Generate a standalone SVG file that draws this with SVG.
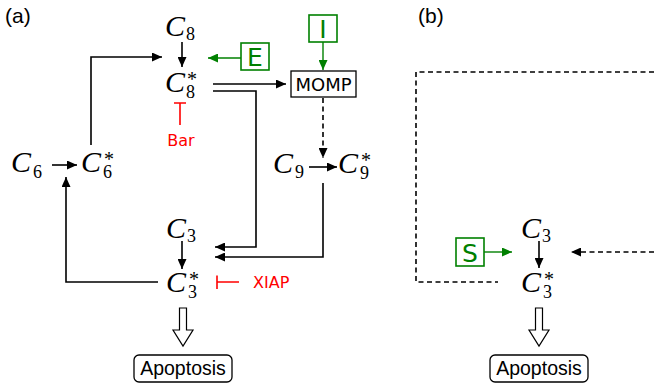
<svg xmlns="http://www.w3.org/2000/svg" width="654" height="390" viewBox="0 0 654 390">
<style>
.c{font-family:"Liberation Serif","DejaVu Serif",serif;font-style:italic;font-size:30px;fill:#000}
.s{font-family:"Liberation Serif","DejaVu Serif",serif;font-size:18px;fill:#000}
.st{font-size:20px}
.lab{font-family:"Liberation Sans",Arial,sans-serif;font-size:21px;fill:#000}
.sans{font-family:"DejaVu Sans",sans-serif;fill:#000}
.ap{font-family:"Liberation Sans",Arial,sans-serif;font-size:19.5px;fill:#000}
.k{stroke:#000;stroke-width:1.6;fill:none}
.g{stroke:#008000;stroke-width:1.4;fill:none}
.r{stroke:#ff0000;stroke-width:1.6;fill:none}
.d{stroke-dasharray:5,3.5}
.gb{fill:#fff;stroke:#008000;stroke-width:1.6}
.gt{font-family:"DejaVu Sans",sans-serif;fill:#008000;text-anchor:middle}
.rt{font-family:"DejaVu Sans",sans-serif;fill:#ff0000;font-size:16px}
.box{fill:#fff;stroke:#000;stroke-width:1.3}
.hol{fill:#fff;stroke:#000;stroke-width:1.2}
</style>
<defs>
<marker id="ak" markerUnits="userSpaceOnUse" markerWidth="10" markerHeight="9" refX="10" refY="4.5" orient="auto"><path d="M0,0 L10,4.5 L0,9 z" fill="#000"/></marker>
<marker id="ag" markerUnits="userSpaceOnUse" markerWidth="10" markerHeight="9" refX="10" refY="4.5" orient="auto"><path d="M0,0 L10,4.5 L0,9 z" fill="#008000"/></marker>
</defs>

<text class="lab" x="5" y="23">(a)</text>
<text class="lab" x="418" y="23">(b)</text>

<g id="connectors">
  <line class="k" x1="182" y1="42" x2="182" y2="67" marker-end="url(#ak)"/>
  <line class="g" x1="241" y1="58" x2="208" y2="58" marker-end="url(#ag)"/>
  <line class="g" x1="323" y1="42" x2="323" y2="70" marker-end="url(#ag)"/>
  <line class="k" x1="213" y1="84" x2="286" y2="84" marker-end="url(#ak)"/>
  <polyline class="k" points="213,91 256,91 256,247 215,247" marker-end="url(#ak)"/>
  <line class="k d" x1="323" y1="98" x2="323" y2="158" marker-end="url(#ak)"/>
  <line class="k" x1="309" y1="167" x2="337" y2="167" marker-end="url(#ak)"/>
  <polyline class="k" points="323,183 323,257 215,257" marker-end="url(#ak)"/>
  <line class="k" x1="52" y1="165" x2="77" y2="165" marker-end="url(#ak)"/>
  <polyline class="k" points="91,145 91,57 162,57" marker-end="url(#ak)"/>
  <polyline class="k" points="158,282 66,282 66,177" marker-end="url(#ak)"/>
  <line class="k" x1="182" y1="241" x2="182" y2="269" marker-end="url(#ak)"/>
  <path class="r" d="M180,125 V103 M174,103 H186"/>
  <path class="r" d="M239,282 H217 M217,275.5 V289"/>
  <path class="hol" d="M179.5,308 H186.5 V330 H193 L183,346 L173,330 H179.5 Z"/>
  <path class="k d" d="M654,72 H416 V282 H498"/>
  <line class="k d" x1="654" y1="252" x2="571" y2="252" marker-end="url(#ak)"/>
  <line class="g" x1="484" y1="252" x2="512" y2="252" marker-end="url(#ag)"/>
  <line class="k" x1="539" y1="241" x2="539" y2="268" marker-end="url(#ak)"/>
  <path class="hol" d="M535.5,308 H542.5 V330 H549 L539,346 L529,330 H535.5 Z"/>
</g>

<g id="C8"><text class="c" x="165" y="36">C</text><text class="s" x="186" y="40">8</text></g>
<g id="C8s"><text class="c" x="165" y="92">C</text><text class="s" x="187" y="86"><tspan class="st">*</tspan><tspan x="186" y="98">8</tspan></text></g>
<g id="E"><rect class="gb" x="241" y="43" width="28" height="27"/><text class="gt" x="255" y="66" font-size="25">E</text></g>
<g id="I"><rect class="gb" x="309" y="15" width="28" height="27"/><text class="gt" x="323" y="38" font-size="25">I</text></g>
<g id="MOMP"><rect class="box" x="291" y="71" width="65" height="26"/><text class="sans" x="323.5" y="91" font-size="18" text-anchor="middle">MOMP</text></g>
<g id="Bar"><text class="rt" x="181" y="146" text-anchor="middle">Bar</text></g>
<g id="C6"><text class="c" x="11" y="172">C</text><text class="s" x="33" y="178">6</text></g>
<g id="C6s"><text class="c" x="81" y="172">C</text><text class="s" x="104" y="166"><tspan class="st">*</tspan><tspan x="103" y="178">6</tspan></text></g>
<g id="C9"><text class="c" x="273" y="173">C</text><text class="s" x="295" y="178">9</text></g>
<g id="C9s"><text class="c" x="338" y="173">C</text><text class="s" x="361" y="167"><tspan class="st">*</tspan><tspan x="360" y="179">9</tspan></text></g>
<g id="C3a"><text class="c" x="166" y="238">C</text><text class="s" x="187" y="242">3</text></g>
<g id="C3sa"><text class="c" x="166" y="292">C</text><text class="s" x="189" y="286"><tspan class="st">*</tspan><tspan x="188" y="298">3</tspan></text></g>
<g id="XIAP"><text class="rt" x="253" y="288">XIAP</text></g>
<g id="Apoptosis_a"><rect class="box" x="134" y="355" width="98" height="27" rx="5"/><text class="ap" x="183" y="375" text-anchor="middle">Apoptosis</text></g>

<g id="S"><rect class="gb" x="456" y="238" width="28" height="28"/><text class="gt" x="470" y="262" font-size="25">S</text></g>
<g id="C3b"><text class="c" x="521" y="238">C</text><text class="s" x="542" y="242">3</text></g>
<g id="C3sb"><text class="c" x="521" y="292">C</text><text class="s" x="544" y="286"><tspan class="st">*</tspan><tspan x="543" y="298">3</tspan></text></g>
<g id="Apoptosis_b"><rect class="box" x="490" y="355" width="98" height="27" rx="5"/><text class="ap" x="539" y="375" text-anchor="middle">Apoptosis</text></g>
</svg>
